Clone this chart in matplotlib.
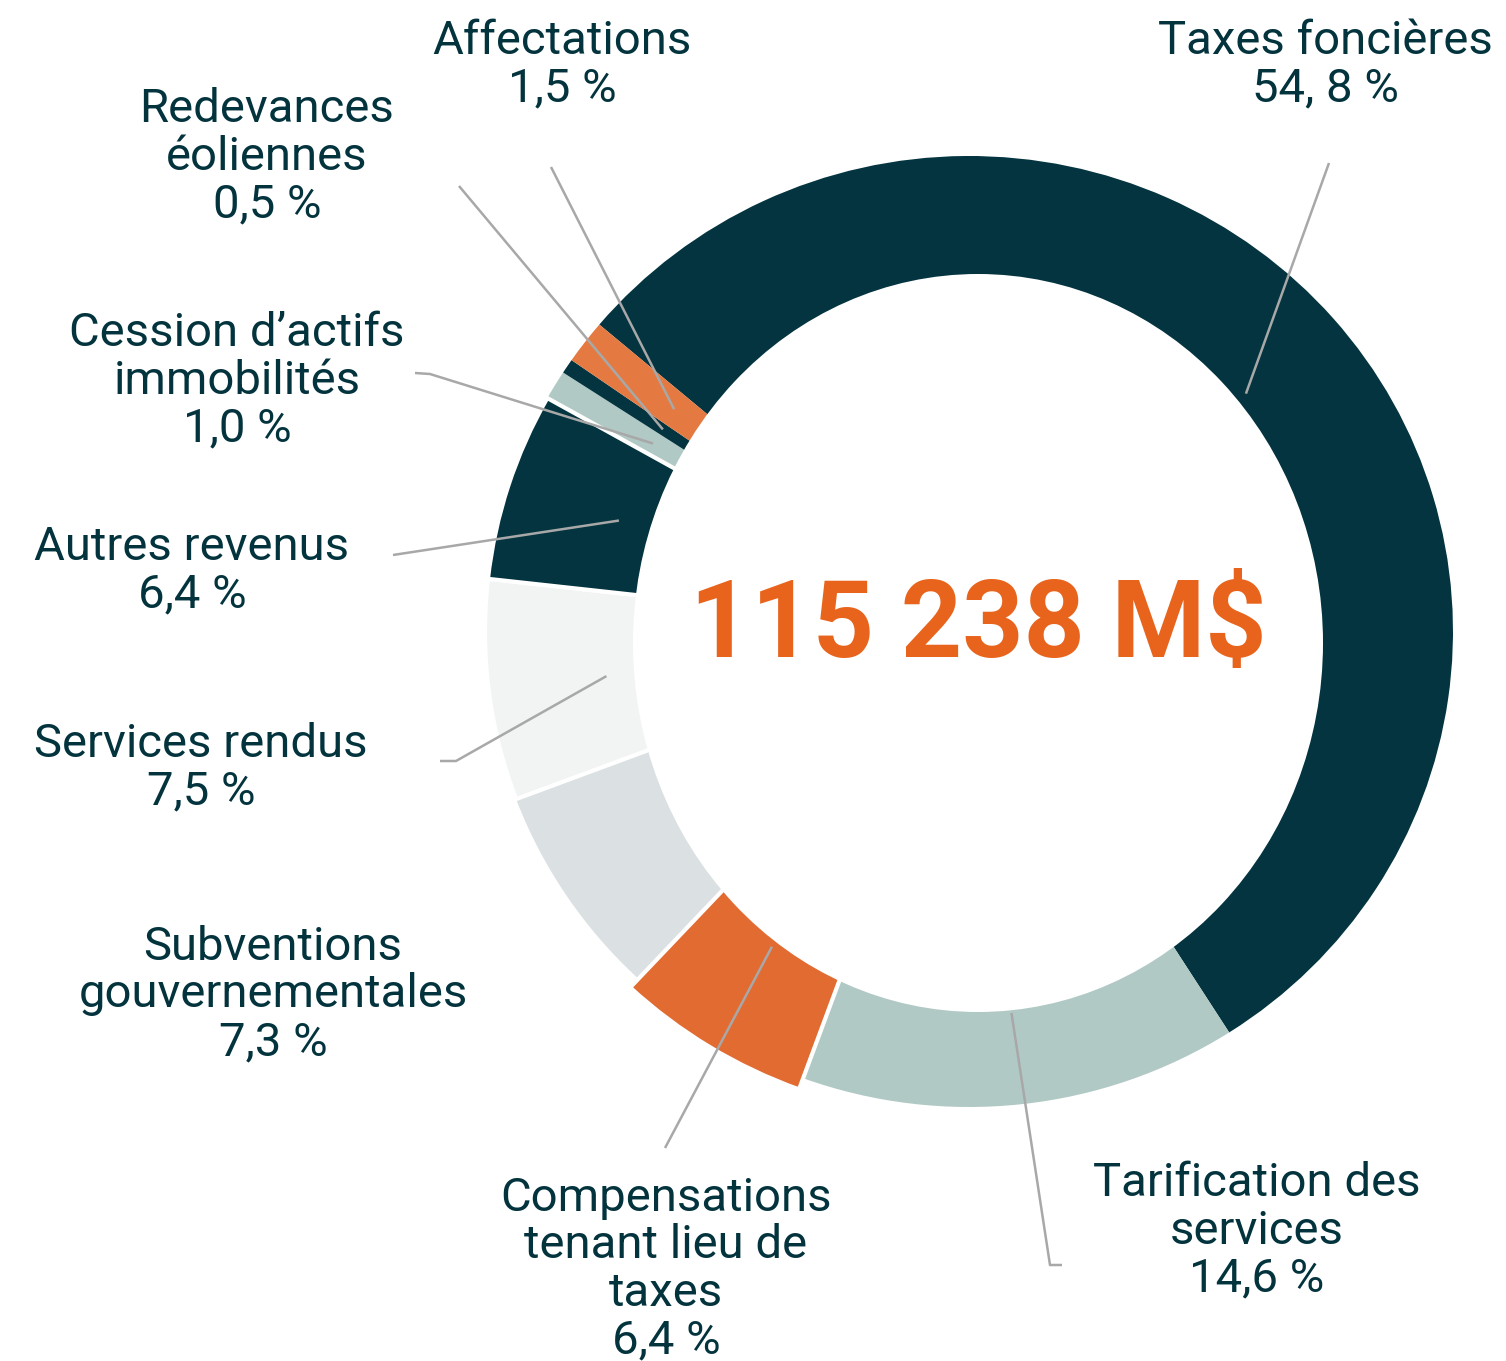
import matplotlib
matplotlib.use("Agg")
import matplotlib.pyplot as plt
from matplotlib.patches import Ellipse
import numpy as np

# ---------------- data ----------------
categories = ["Taxes foncières", "Tarification des services",
              "Compensations tenant lieu de taxes", "Subventions gouvernementales",
              "Services rendus", "Autres revenus", "Cession d’actifs immobilités",
              "Redevances éoliennes", "Affectations"]
values = [54.8, 14.6, 6.4, 7.3, 7.5, 6.4, 1.0, 0.5, 1.5]
label_lines = [["Taxes foncières"], ["Tarification des", "services"],
               ["Compensations", "tenant lieu de", "taxes"],
               ["Subventions", "gouvernementales"], ["Services rendus"],
               ["Autres revenus"], ["Cession d’actifs", "immobilités"],
               ["Redevances", "éoliennes"], ["Affectations"]]
pct_labels = ["54, 8 %", "14,6 %", "6,4 %", "7,3 %", "7,5 %", "6,4 %",
              "1,0 %", "0,5 %", "1,5 %"]
total_label = "115 238 M$"

# ---------------- style ----------------
DARK = "#03343f"
colors = [DARK, "#b1c9c5", "#e26b31", "#dbe0e2", "#f2f4f3", DARK,
          "#b1c9c5", DARK, "#e47a42"]
TEXT = "#03343e"
ORANGE_TXT = "#e8641c"
LINE = "#a8a8a8"
plt.rcParams["font.family"] = ["Roboto", "DejaVu Sans"]

W, H = 1506, 1361
CX, CY = 969, 631.5      # pie centre (pixels)
SX, SY = 484, 475.5      # pixels per data unit


def px(x, y):
    return (x - CX) / SX, (CY - y) / SY


fig = plt.figure(figsize=(W / 100, H / 100), dpi=100)
ax = fig.add_axes([0, 0, 1, 1])

wedges, _ = ax.pie(values, colors=colors, startangle=139.8, counterclock=False,
                   radius=1.0, center=(0, 0),
                   wedgeprops=dict(linewidth=0, edgecolor="white"))

# white separators on some wedges
for i in (2, 4, 5):
    wedges[i].set_edgecolor("white")
    wedges[i].set_linewidth(3)
    wedges[i].set_zorder(3)
wedges[2].set_radius(1.025)

# offset hole
hx, hy = px(978, 643)
ax.add_patch(Ellipse((hx, hy), 690 / SX, 738 / SY, facecolor="white",
                     edgecolor="none", zorder=5))

ax.set_xlim(px(0, 0)[0], px(W, 0)[0])
ax.set_ylim(px(0, H)[1], px(0, 0)[1])
ax.set_aspect("auto")
ax.axis("off")

# ---------------- labels ----------------
label_pos = [(1325, 54), (1257, 1196), (666, 1211), (273, 960), (201, 757),
             (192, 560), (237, 346), (267, 122), (562, 54)]
LS = 47.5
for lines, pct, (lx, ly) in zip(label_lines, pct_labels, label_pos):
    for k, t in enumerate(lines + [pct]):
        x, y = px(lx, ly + k * LS)
        ax.text(x, y, t, ha="center", va="baseline", fontsize=34,
                color=TEXT, zorder=10)

# leader lines: outer anchor points (pixels) and inner radius
leader_start = [[(1329, 163)], [(1062, 1265), (1050, 1265)], [(665, 1148)], None,
                [(440, 761), (456, 761)], [(393, 555)], [(415, 373), (430, 374)],
                [(459, 186)], [(551, 167)]]
leader_r = [0.76, 0.807, 0.778, None, 0.755, 0.76, 0.763, 0.762, 0.768]
for w, pts, r in zip(wedges, leader_start, leader_r):
    if pts is None:
        continue
    mid = np.deg2rad((w.theta1 + w.theta2) / 2)
    xs = [px(*p)[0] for p in pts] + [r * np.cos(mid)]
    ys = [px(*p)[1] for p in pts] + [r * np.sin(mid)]
    ax.plot(xs, ys, color=LINE, lw=1.8, solid_capstyle="butt", zorder=8)

# centre total
tx, ty = px(978, 657)
ax.text(tx, ty, total_label, ha="center", va="baseline", fontsize=77,
        fontweight="bold", color=ORANGE_TXT, zorder=10)

fig.savefig("out.png", dpi=100)
